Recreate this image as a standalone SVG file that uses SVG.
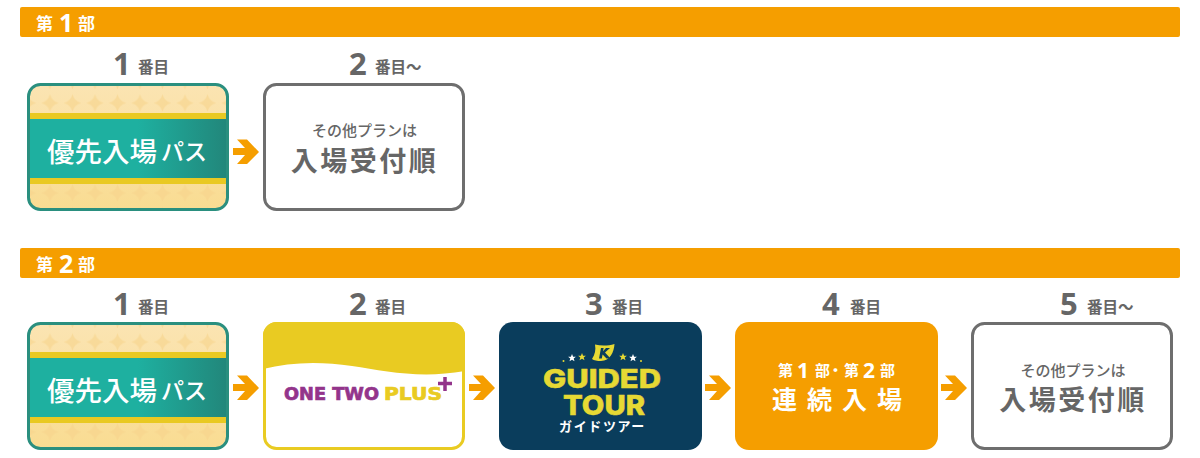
<svg xmlns="http://www.w3.org/2000/svg" width="1200" height="458" viewBox="0 0 1200 458">
<style>
text{font-family:"Noto Sans CJK JP","Noto Sans",sans-serif}
.bar{fill:#f59e00}
.hw{fill:#fff;font-weight:700;font-size:17px}
.hn{fill:#fff;font-family:"Noto Sans","Liberation Sans",sans-serif;font-weight:700;font-size:25px}
.num{fill:#666;font-family:"Noto Sans","Liberation Sans",sans-serif;font-weight:700;font-size:31px}
.ord{fill:#666;font-weight:700;font-size:15.5px}
.plain{fill:#fff;stroke:#6e6e6e;stroke-width:3}
.sub{fill:#666;font-weight:500;font-size:15px;text-anchor:middle}
.big{fill:#666;font-weight:700;font-size:27px;letter-spacing:2.5px;text-anchor:middle}
.pk{fill:#fff;font-weight:500;font-size:27.500px}
.pk2{fill:#fff;font-weight:500;font-size:23px}
.w15{fill:#fff;font-weight:700;font-size:15px}
.wn{fill:#fff;font-family:"Noto Sans","Liberation Sans",sans-serif;font-weight:700;font-size:21px}
.logo{font-family:"Inter","Liberation Sans",sans-serif;font-weight:800;fill:#e6d934;stroke:#e6d934;stroke-width:.5px;text-anchor:middle}
.ott{font-family:"DejaVu Sans","Liberation Sans",sans-serif;font-weight:700;font-size:17.500px;stroke-width:.7px}
</style>
<defs>
<linearGradient id="teal" x1="0" x2="1" y1="0" y2="0"><stop offset="0" stop-color="#1eb0a0"/><stop offset=".55" stop-color="#1eb0a0"/><stop offset="1" stop-color="#22867a"/></linearGradient>
<linearGradient id="cream" x1="0" x2="0" y1="0" y2="1"><stop offset="0" stop-color="#fbe4b2"/><stop offset="1" stop-color="#f9dc92"/></linearGradient>
<pattern id="dia" patternUnits="userSpaceOnUse" x="38.750" y="91.750" width="22.500" height="22.500"><path d="M11.250 2.500Q13 9.500 20 11.250Q13 13 11.250 20Q9.500 13 2.500 11.250Q9.500 9.500 11.250 2.500Z" fill="#f6d48c" fill-opacity=".6"/></pattern>
<clipPath id="passclip"><rect x="28.500" y="84.500" width="199" height="125" rx="12"/></clipPath>
<g id="pass-art">
<rect x="28.500" y="84.500" width="199" height="125" rx="12" fill="url(#cream)"/>
<g clip-path="url(#passclip)">
<rect x="28" y="84" width="200" height="126" fill="url(#dia)"/>
<rect x="28" y="113" width="200" height="71" fill="#e9c922"/>
<rect x="28" y="119" width="200" height="59" fill="url(#teal)"/>
</g>
<rect x="28.500" y="84.500" width="199" height="125" rx="12" fill="none" stroke="#2a8f7f" stroke-width="3"/>
</g>
<path id="arrow" d="M233 148H245L237 139.500H247L259 152L247 164H237L245 155H233Z" fill="#f59e00"/>
<path id="star" d="M0-4L1.100-1.300L3.900-1.200L1.700.500L2.500 3.300L0 1.700L-2.500 3.300L-1.700.500L-3.900-1.200L-1.100-1.300Z"/>
</defs>

<g id="header-1"><rect class="bar" x="20" y="7" width="1160" height="30" rx="2"/>
<text class="hw" x="36" y="30">第</text><text class="hn" x="59" y="32">1</text><text class="hw" x="78" y="30">部</text></g>

<g id="node-1-1">
<text class="num" x="113" y="75">1</text><text class="ord" x="138" y="73">番目</text>
<use href="#pass-art"/>
<text class="pk" x="47" y="162">優先入場</text><text class="pk2" x="161" y="160">パス</text></g>

<g id="node-1-2">
<text class="num" x="349" y="75">2</text><text class="ord" x="375" y="73">番目～</text>
<rect class="plain" x="264.500" y="84.500" width="199" height="125" rx="12"/>
<text class="sub" x="364.500" y="136">その他プランは</text>
<text class="big" x="364.500" y="171">入場受付順</text></g>

<g id="header-2"><rect class="bar" x="20" y="248" width="1160" height="30" rx="2"/>
<text class="hw" x="36" y="271">第</text><text class="hn" x="59" y="273">2</text><text class="hw" x="78" y="271">部</text></g>

<g id="node-2-1">
<text class="num" x="113" y="315">1</text><text class="ord" x="138" y="313">番目</text>
<use href="#pass-art" y="239"/>
<text class="pk" x="47" y="401">優先入場</text><text class="pk2" x="161" y="399">パス</text></g>

<g id="node-2-2">
<text class="num" x="349" y="315">2</text><text class="ord" x="375" y="313">番目</text>
<rect x="264.500" y="323.500" width="199" height="125" rx="12" fill="#fff" stroke="#e9cb22" stroke-width="3"/>
<path d="M263 369C290 362 320 361 352 366C385 371 420 379 465 371V336A14 14 0 0 0 451 322H277A14 14 0 0 0 263 336Z" fill="#e9cb22"/>
<text class="ott" x="284" y="400" fill="#93348b" stroke="#93348b" textLength="95" lengthAdjust="spacingAndGlyphs">ONE TWO</text>
<text class="ott" x="384" y="400" fill="#e9cb22" stroke="#e9cb22" textLength="58" lengthAdjust="spacingAndGlyphs">PLUS</text>
<path d="M438 383.500H452M445 377V391" stroke="#93348b" stroke-width="3.500" fill="none"/></g>

<g id="node-2-3">
<text class="num" x="585" y="315">3</text><text class="ord" x="612" y="313">番目</text>
<rect x="499" y="322" width="203" height="128" rx="14" fill="#0a3d5c"/>
<path d="M595 344.500C601 346 608 346 614.500 344C614 352 610 361 601 361C597 361 594 360.500 592 359C595 354 596 350 595 344.500Z" fill="#e6d934"/>
<path d="M601 348L599 358.500H601.800L602.600 354.500L606.500 358.500H610.500L605 352.600L610 348H606L603 351.200L603.600 348Z" fill="#0a3d5c"/>
<g fill="#e6d934"><use href="#star" x="582" y="357"/><use href="#star" x="623" y="357"/><circle cx="563.500" cy="361" r="1"/><circle cx="641" cy="361" r="1"/></g>
<g fill="#fff"><use href="#star" x="572" y="358"/><use href="#star" x="633" y="358"/></g>
<text class="logo" x="602" y="388" font-size="26" textLength="118" lengthAdjust="spacingAndGlyphs">GUIDED</text>
<text class="logo" x="604" y="415" font-size="27" textLength="82" lengthAdjust="spacingAndGlyphs">TOUR</text>
<text x="602.500" y="431" fill="#fff" font-weight="700" font-size="13" text-anchor="middle" letter-spacing="1.600">ガイドツアー</text></g>

<g id="node-2-4">
<text class="num" x="822" y="315">4</text><text class="ord" x="850" y="313">番目</text>
<rect class="bar" x="735" y="322" width="203" height="128" rx="14"/>
<text class="w15" x="778" y="376">第</text><text class="wn" x="797" y="378">1</text><text class="w15" x="815" y="376">部</text><text class="w15" x="828" y="376">・</text><text class="w15" x="844" y="376">第</text><text class="wn" x="863" y="378">2</text><text class="w15" x="880" y="376">部</text>
<text x="772" y="409" fill="#fff" font-weight="700" font-size="25" letter-spacing="10">連続入場</text></g>

<g id="node-2-5">
<text class="num" x="1060" y="315">5</text><text class="ord" x="1087" y="313">番目～</text>
<rect class="plain" x="972.500" y="323.500" width="199" height="125" rx="12"/>
<text class="sub" x="1073" y="376">その他プランは</text>
<text class="big" x="1073" y="410">入場受付順</text></g>

<g id="connectors">
<use href="#arrow"/>
<use href="#arrow" y="236"/>
<use href="#arrow" x="236" y="236"/>
<use href="#arrow" x="472" y="236"/>
<use href="#arrow" x="708" y="236"/>
</g>
</svg>
